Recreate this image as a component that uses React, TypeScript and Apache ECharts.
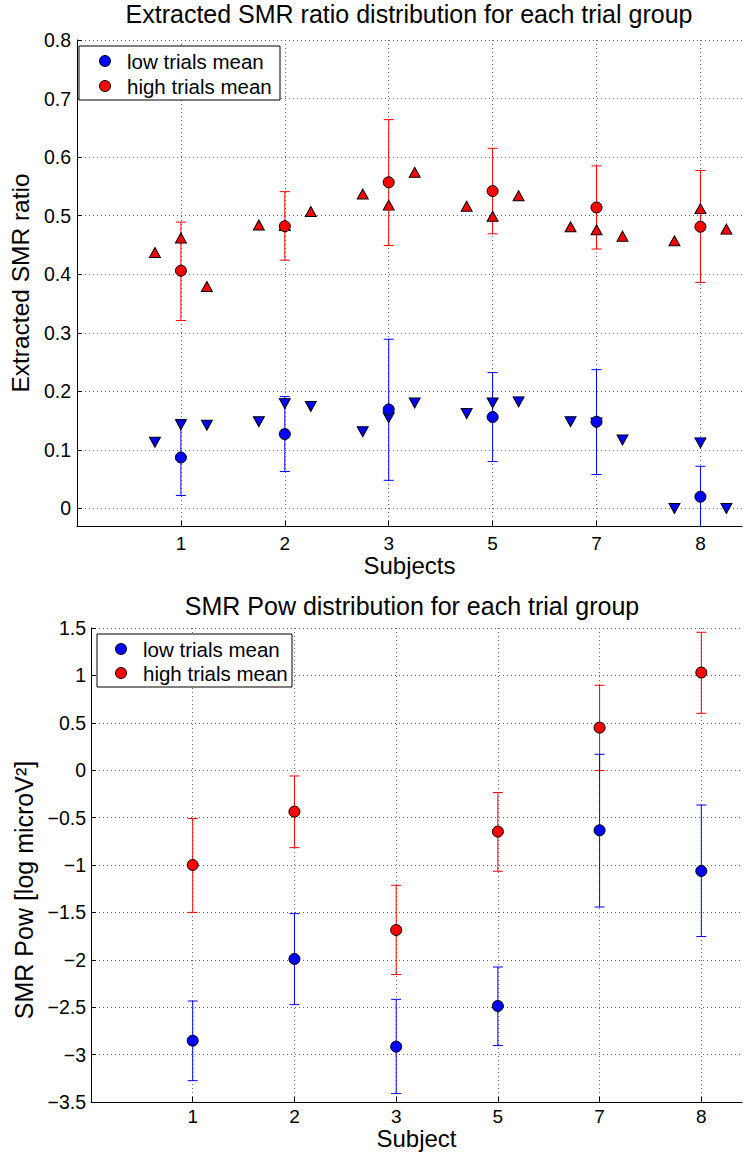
import React, { useEffect, useRef } from 'react';
import * as echarts from 'echarts';

const FONT = '"Liberation Sans", Arial, Helvetica, sans-serif';

// Categories (subjects) placed at positions 1..6
const subjects = ['1', '2', '3', '5', '7', '8'];
const trialOffsets = [-0.25, 0, 0.25];

// ---- Top chart: Extracted SMR ratio ----
const ratioHighMean = [0.406, 0.482, 0.557, 0.542, 0.514, 0.481];
const ratioHighLow = [0.321, 0.424, 0.449, 0.469, 0.443, 0.386];
const ratioHighHigh = [0.489, 0.541, 0.664, 0.615, 0.585, 0.577];
const ratioLowMean = [0.087, 0.127, 0.169, 0.156, 0.148, 0.020];
const ratioLowLow = [0.022, 0.063, 0.048, 0.080, 0.058, -0.032];
const ratioLowHigh = [0.152, 0.191, 0.289, 0.232, 0.237, 0.072];
const ratioHighTrials = [
  [0.437, 0.462, 0.379],
  [0.484, 0.483, 0.507],
  [0.537, 0.518, 0.574],
  [0.516, 0.499, 0.534],
  [0.481, 0.476, 0.465],
  [0.457, 0.512, 0.477],
];
const ratioLowTrials = [
  [0.113, 0.143, 0.142],
  [0.148, 0.179, 0.174],
  [0.131, 0.155, 0.180],
  [0.162, 0.180, 0.182],
  [0.148, 0.146, 0.117],
  [0.0, 0.112, 0.0],
];
const ratioTicks = [0, 0.1, 0.2, 0.3, 0.4, 0.5, 0.6, 0.7, 0.8];

// ---- Bottom chart: SMR Pow ----
const powHighMean = [-1.0, -0.437, -1.686, -0.648, 0.449, 1.03];
const powHighLow = [-1.5, -0.817, -2.156, -1.066, -0.004, 0.6];
const powHighHigh = [-0.51, -0.061, -1.214, -0.236, 0.896, 1.455];
const powLowMean = [-2.853, -1.991, -2.916, -2.487, -0.634, -1.063];
const powLowLow = [-3.275, -2.473, -3.411, -2.905, -1.443, -1.755];
const powLowHigh = [-2.435, -1.513, -2.417, -2.076, 0.168, -0.367];

const legendLabels = ['low trials mean', 'high trials mean'];
const positions = [1, 2, 3, 4, 5, 6];

const BLUE = '#0000ff';
const RED = '#ff0000';

const meanData = (vals: number[]) => vals.map((v, i) => [i + 1, v]);
const errData = (lo: number[], hi: number[]) => lo.map((v, i) => [i + 1, v, hi[i]]);
const trialData = (rows: number[][]) => {
  const out: number[][] = [];
  rows.forEach((row, i) => row.forEach((v, j) => out.push([i + 1 + trialOffsets[j], v])));
  return out;
};

const makeErrorRender = (color: string) => (params: any, api: any) => {
  const x = api.value(0);
  const lo = api.coord([x, api.value(1)]);
  const hi = api.coord([x, api.value(2)]);
  const hw = 5;
  const style = { stroke: color, lineWidth: 1 };
  return {
    type: 'group',
    children: [
      { type: 'line', shape: { x1: lo[0], y1: lo[1], x2: hi[0], y2: hi[1] }, style },
      { type: 'line', shape: { x1: lo[0] - hw, y1: lo[1], x2: lo[0] + hw, y2: lo[1] }, style },
      { type: 'line', shape: { x1: hi[0] - hw, y1: hi[1], x2: hi[0] + hw, y2: hi[1] }, style },
    ],
  };
};

const gridLine = { show: true, lineStyle: { color: '#666', type: [1, 3] as any, width: 1 } };

const xAxisCfg = (gridIndex: number, name: string, labelMargin: number, nameGap: number) => ({
  gridIndex,
  type: 'value',
  min: 0,
  max: 6.4,
  name,
  nameLocation: 'middle',
  nameGap,
  nameTextStyle: { fontSize: 24, color: '#000', fontFamily: FONT },
  axisLine: { show: true, onZero: false, lineStyle: { color: '#000', width: 1 } },
  axisTick: { show: true, inside: true, length: 5, customValues: positions, lineStyle: { color: '#000' } },
  axisLabel: {
    customValues: positions,
    formatter: (v: number) => subjects[Math.round(v) - 1] ?? '',
    fontSize: 19,
    color: '#000',
    fontFamily: FONT,
    margin: labelMargin,
  },
  splitLine: gridLine,
});

const fmtNeg = (v: number) => (v < 0 ? '\u2212' + String(Math.abs(v)) : String(v));

const legendGraphic = (x: number, y: number, w: number, h: number, cx: number, tx: number, rows: number[]) => ({
  type: 'group',
  children: [
    { type: 'rect', shape: { x, y, width: w, height: h }, style: { fill: '#fff', stroke: '#000', lineWidth: 1 }, z: 100 },
    ...legendLabels.flatMap((label, i) => [
      { type: 'circle', shape: { cx, cy: rows[i], r: 5.5 }, style: { fill: i === 0 ? BLUE : RED, stroke: '#000', lineWidth: 1 }, z: 101 },
      {
        type: 'text',
        x: tx,
        y: rows[i],
        style: { text: label, fontSize: 20.5, fontFamily: FONT, fill: '#000', verticalAlign: 'middle', align: 'left' },
        z: 101,
      },
    ]),
  ],
});

const option: any = {
  animation: false,
  backgroundColor: '#fff',
  title: [
    {
      text: 'Extracted SMR ratio distribution for each trial group',
      left: 409,
      top: 1,
      padding: 0,
      textAlign: 'center',
      textStyle: { fontSize: 25, fontWeight: 'normal', color: '#000', fontFamily: FONT },
    },
    {
      text: 'SMR Pow distribution for each trial group',
      left: 412,
      top: 593,
      padding: 0,
      textAlign: 'center',
      textStyle: { fontSize: 25, fontWeight: 'normal', color: '#000', fontFamily: FONT },
    },
  ],
  grid: [
    { left: 73, top: 40, right: 3, height: 486, containLabel: false },
    { left: 91, top: 628, right: 3, height: 474, containLabel: false },
  ],
  xAxis: [xAxisCfg(0, 'Subjects', 8, 26), xAxisCfg(1, 'Subject', 5, 24)],
  yAxis: [
    {
      gridIndex: 0,
      type: 'value',
      min: -0.03,
      max: 0.8,
      name: 'Extracted SMR ratio',
      nameLocation: 'middle',
      nameGap: 40,
      nameTextStyle: { fontSize: 24.5, color: '#000', fontFamily: FONT },
      axisLine: { show: true, lineStyle: { color: '#000', width: 1 } },
      axisTick: { show: true, inside: true, length: 5, customValues: ratioTicks, lineStyle: { color: '#000' } },
      axisLabel: { customValues: ratioTicks, formatter: (v: number) => String(v), fontSize: 19.5, color: '#000', fontFamily: FONT, margin: 6 },
      splitLine: gridLine,
    },
    {
      gridIndex: 1,
      type: 'value',
      min: -3.5,
      max: 1.5,
      interval: 0.5,
      name: 'SMR Pow [log microV²]',
      nameLocation: 'middle',
      nameGap: 50,
      nameTextStyle: { fontSize: 25, color: '#000', fontFamily: FONT, padding: [0, 50, 0, 0] },
      axisLine: { show: true, lineStyle: { color: '#000', width: 1 } },
      axisTick: { show: true, inside: true, length: 5, lineStyle: { color: '#000' } },
      axisLabel: { formatter: fmtNeg, fontSize: 19.5, color: '#000', fontFamily: FONT, margin: 5 },
      splitLine: gridLine,
    },
  ],
  series: [
    // top chart
    { type: 'custom', name: 'ratio high err', xAxisIndex: 0, yAxisIndex: 0, renderItem: makeErrorRender(RED), data: errData(ratioHighLow, ratioHighHigh), encode: { x: 0, y: [1, 2] }, clip: true, z: 2 },
    { type: 'custom', name: 'ratio low err', xAxisIndex: 0, yAxisIndex: 0, renderItem: makeErrorRender(BLUE), data: errData(ratioLowLow, ratioLowHigh), encode: { x: 0, y: [1, 2] }, clip: true, z: 2 },
    { type: 'scatter', name: 'ratio high trials', xAxisIndex: 0, yAxisIndex: 0, symbol: 'triangle', symbolSize: [11, 10], data: trialData(ratioHighTrials), itemStyle: { color: RED, borderColor: '#000', borderWidth: 1, opacity: 1 }, z: 3 },
    { type: 'scatter', name: 'ratio low trials', xAxisIndex: 0, yAxisIndex: 0, symbol: 'triangle', symbolRotate: 180, symbolSize: [11, 10], data: trialData(ratioLowTrials), itemStyle: { color: BLUE, borderColor: '#000', borderWidth: 1, opacity: 1 }, z: 3 },
    { type: 'scatter', name: legendLabels[0], xAxisIndex: 0, yAxisIndex: 0, symbol: 'circle', symbolSize: 11, data: meanData(ratioLowMean), itemStyle: { color: BLUE, borderColor: '#000', borderWidth: 1, opacity: 1 }, z: 4 },
    { type: 'scatter', name: legendLabels[1], xAxisIndex: 0, yAxisIndex: 0, symbol: 'circle', symbolSize: 11, data: meanData(ratioHighMean), itemStyle: { color: RED, borderColor: '#000', borderWidth: 1, opacity: 1 }, z: 4 },
    // bottom chart
    { type: 'custom', name: 'pow high err', xAxisIndex: 1, yAxisIndex: 1, renderItem: makeErrorRender(RED), data: errData(powHighLow, powHighHigh), encode: { x: 0, y: [1, 2] }, clip: true, z: 2 },
    { type: 'custom', name: 'pow low err', xAxisIndex: 1, yAxisIndex: 1, renderItem: makeErrorRender(BLUE), data: errData(powLowLow, powLowHigh), encode: { x: 0, y: [1, 2] }, clip: true, z: 2 },
    { type: 'scatter', name: legendLabels[0] + ' pow', xAxisIndex: 1, yAxisIndex: 1, symbol: 'circle', symbolSize: 11, data: meanData(powLowMean), itemStyle: { color: BLUE, borderColor: '#000', borderWidth: 1, opacity: 1 }, z: 4 },
    { type: 'scatter', name: legendLabels[1] + ' pow', xAxisIndex: 1, yAxisIndex: 1, symbol: 'circle', symbolSize: 11, data: meanData(powHighMean), itemStyle: { color: RED, borderColor: '#000', borderWidth: 1, opacity: 1 }, z: 4 },
  ],
  graphic: [
    legendGraphic(79, 46, 201, 54, 105, 127, [61, 86]),
    legendGraphic(97, 634, 195, 53, 121, 143, [649, 673]),
  ],
};

export default function App() {
  const ref = useRef<HTMLDivElement>(null);
  useEffect(() => {
    document.body.style.margin = '0';
    const chart = echarts.init(ref.current as HTMLDivElement, null, { renderer: 'svg' });
    chart.setOption(option);
    return () => chart.dispose();
  }, []);
  return <div ref={ref} style={{ width: 745, height: 1155 }} />;
}
